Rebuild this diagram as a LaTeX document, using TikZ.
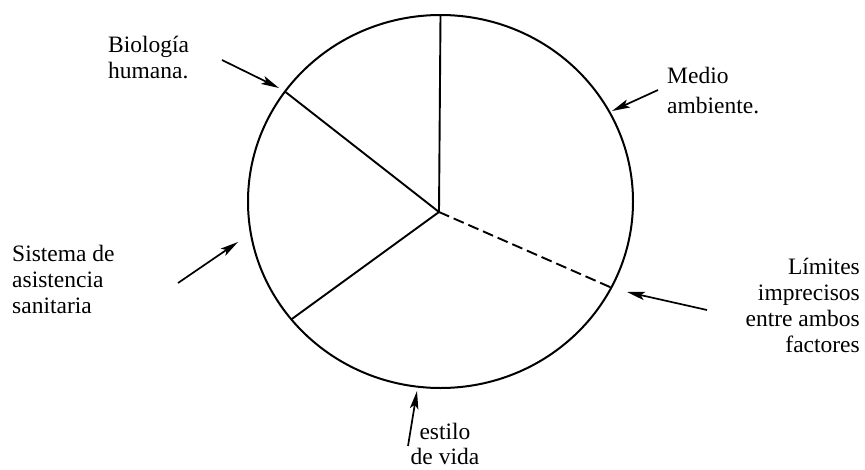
\documentclass[tikz,border=0pt]{standalone}
\usepackage{fontspec}
\setmainfont{Liberation Serif}
\usetikzlibrary{arrows.meta}
\begin{document}
\begin{tikzpicture}[x=1pt,y=-1pt,
  rim/.style={line width=2pt},
  spoke/.style={line width=1.9pt},
  ptr/.style={line width=1.7pt,-{Stealth[length=18pt,width=8.5pt,inset=4pt]}},
  lbl/.style={inner sep=0pt,font=\fontsize{23.5}{26}\selectfont}]
\useasboundingbox (0,0) rectangle (865,469);
\fill[white] (0,0) rectangle (865,469);
% circle
\draw[rim] (440.5,201.5) ellipse [x radius=192.5, y radius=186.5];
% hub and rim points
\coordinate (hub) at (439,212);
\coordinate (top) at (440.5,15.5);
\coordinate (ul) at (285,91.6);
\coordinate (ll) at (291.3,319.4);
\coordinate (dr) at (611.3,287.6);
\draw[spoke] (hub) -- (top);
\draw[spoke] (hub) -- (ul);
\draw[spoke] (hub) -- (ll);
\draw[spoke,dash pattern=on 11pt off 5pt] (hub) -- (dr);
% labels (base anchor = baseline of last line)
\node[lbl,anchor=base west,align=left] (bio) at (108,78) {Biología\\humana.};
\node[lbl,anchor=base west,align=left] (sis) at (12,313) {Sistema de\\asistencia\\sanitaria};
\node[lbl,anchor=base west,align=left,font=\fontsize{23.5}{30}\selectfont] (med) at (667,113) {Medio\\ambiente.};
\node[lbl,anchor=base east,align=right] (lim) at (860,352) {Límites\\imprecisos\\entre ambos\\factores};
\node[lbl,anchor=base,align=center,font=\fontsize{23.5}{25}\selectfont] (est) at (445,464) {estilo\\de vida};
% arrows
\coordinate (bioT) at (222,60);   \coordinate (bioH) at (279,88);
\coordinate (sisT) at (178,283);  \coordinate (sisH) at (238,242);
\coordinate (medT) at (658,90);   \coordinate (medH) at (612,111);
\coordinate (limT) at (707,310);  \coordinate (limH) at (627,292);
\coordinate (estT) at (408,446);  \coordinate (estH) at (417,391);
\draw[ptr] (bioT) -- (bioH);
\draw[ptr] (sisT) -- (sisH);
\draw[ptr] (medT) -- (medH);
\draw[ptr] (limT) -- (limH);
\draw[ptr] (estT) -- (estH);
\end{tikzpicture}
\end{document}
